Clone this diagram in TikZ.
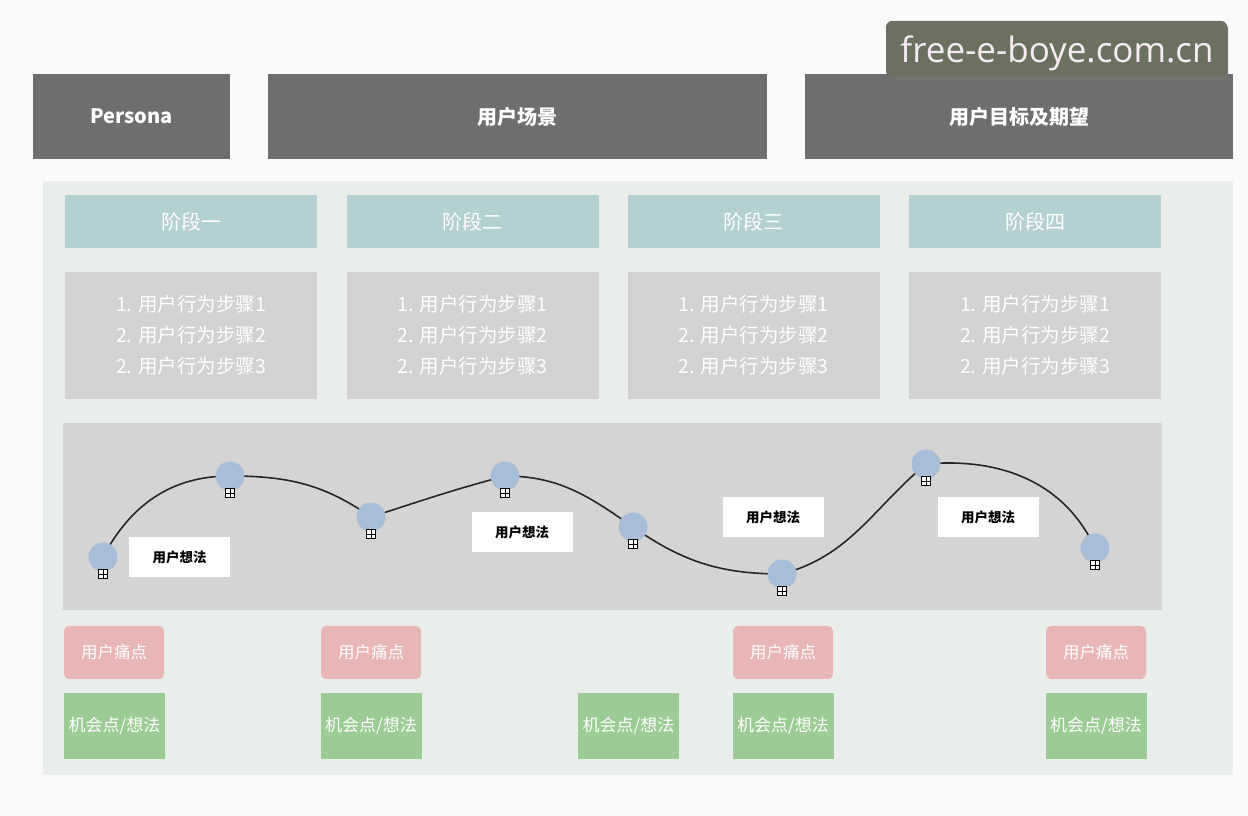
\documentclass[tikz,border=0pt]{standalone}
\usepackage{fontspec}
\setmainfont{Noto Sans CJK SC}
\newfontfamily\wmfont{Open Sans}
\definecolor{pagebg}{HTML}{FAFAFA}
\definecolor{headgray}{HTML}{6E6E6E}
\definecolor{panelbg}{HTML}{E9EEEB}
\definecolor{stagec}{HTML}{B5D0D3}
\definecolor{stepc}{HTML}{D2D2D2}
\definecolor{curvebg}{HTML}{D4D4D4}
\definecolor{dotc}{HTML}{A8BDD8}
\definecolor{painc}{HTML}{E7B6B5}
\definecolor{oppc}{HTML}{9DCB96}
\definecolor{wmc}{HTML}{6C705E}
\definecolor{wmtext}{HTML}{F5ECF2}
\tikzset{
  base/.style={rectangle, inner sep=0pt, align=center},
  headbox/.style={base, fill=headgray, text=white, minimum height=85pt, font=\fontsize{20}{24}\selectfont\bfseries},
  stagebox/.style={base, fill=stagec, text=white, minimum width=252pt, minimum height=53pt, font=\fontsize{20}{24}\selectfont},
  stepbox/.style={base, fill=stepc, text=white, minimum width=252pt, minimum height=127pt, font=\fontsize{19.5}{31}\selectfont},
  thought/.style={base, fill=white, text=black, minimum width=101pt, minimum height=40pt, font=\fontsize{13.5}{16}\selectfont\bfseries},
  painbox/.style={base, fill=painc, text=white, rounded corners=5pt, minimum width=100pt, minimum height=53pt, font=\fontsize{16.5}{20}\selectfont},
  oppbox/.style={base, fill=oppc, text=white, minimum width=101pt, minimum height=66pt, font=\fontsize{17}{20}\selectfont},
  dot/.style={circle, fill=dotc, minimum size=29pt, inner sep=0pt},
  plusbox/.style={rectangle, draw=black, line width=0.9pt, fill=white, minimum size=9pt, inner sep=0pt,
    path picture={\draw[line width=0.8pt] (path picture bounding box.north) -- (path picture bounding box.south)
      (path picture bounding box.west) -- (path picture bounding box.east);}},
  curveline/.style={draw=black!85, line width=1.6pt},
}
\begin{document}
\begin{tikzpicture}[x=1pt,y=1pt]
\fill[pagebg] (0,0) rectangle (1248,816);
\useasboundingbox (0,0) rectangle (1248,816);
% headers
\node[headbox, minimum width=197pt] (persona) at (131.5,699.5) {Persona};
\node[headbox, minimum width=499pt] (scene) at (517.5,699.5) {用户场景};
\node[headbox, minimum width=428pt] (goal) at (1019,699.5) {用户目标及期望};
% main panel
\node[base, fill=panelbg, minimum width=1190pt, minimum height=594pt] (panel) at (638,338) {};
% stages
\node[stagebox] (s1) at (191,594.5) {阶段一};
\node[stagebox] (s2) at (472.5,594.5) {阶段二};
\node[stagebox] (s3) at (753.5,594.5) {阶段三};
\node[stagebox] (s4) at (1035,594.5) {阶段四};
\foreach \i/\x in {1/191,2/472.5,3/753.5,4/1035}{
  \node[stepbox] (st\i) at (\x,480.5) {1. 用户行为步骤1\\2. 用户行为步骤2\\2. 用户行为步骤3};
}
% curve panel
\node[base, fill=curvebg, minimum width=1099pt, minimum height=187pt] (cpanel) at (612.5,299.5) {};
% thought boxes
\node[thought] (t1) at (179.5,259) {用户想法};
\node[thought] (t2) at (522,284) {用户想法};
\node[thought] (t3) at (773,299) {用户想法};
\node[thought] (t4) at (988,299) {用户想法};
% curve
\coordinate (c1) at (103,259);
\coordinate (c2) at (230,340);
\coordinate (c3) at (371,299);
\coordinate (c4) at (505,340);
\coordinate (c5) at (633,289);
\coordinate (c6) at (782,242);
\coordinate (c7) at (926,352);
\coordinate (c8) at (1095,268);
\draw[curveline] (c1) to[out=62,in=180] (c2) to[out=0,in=145] (c3)
  to[out=18,in=195] (c4) to[out=0,in=145] (c5) to[out=-35,in=180] (c6)
  to[out=15,in=220] (c7) to[out=5,in=115] (c8);
\foreach \i in {1,...,8}{
  \node[dot] (d\i) at (c\i) {};
  \node[plusbox] (b\i) at ([yshift=-17pt]c\i) {};
}
% pain points
\node[painbox] (pa1) at (114,163.5) {用户痛点};
\node[painbox] (pa2) at (371,163.5) {用户痛点};
\node[painbox] (pa3) at (783,163.5) {用户痛点};
\node[painbox] (pa4) at (1096,163.5) {用户痛点};
% opportunities
\node[oppbox] (o1) at (114.5,90) {机会点/想法};
\node[oppbox] (o2) at (371,90) {机会点/想法};
\node[oppbox] (o3) at (628.5,90) {机会点/想法};
\node[oppbox] (o4) at (783,90) {机会点/想法};
\node[oppbox] (o5) at (1096,90) {机会点/想法};
% watermark
\fill[black!55, rounded corners=6pt] (887,736) rectangle (1228,793);
\node[base, fill=wmc, rounded corners=6pt, minimum width=341pt, minimum height=56pt] (wm) at (1056.5,767) {};
\node[base, text=wmtext, font=\wmfont\fontsize{35}{40}\selectfont] (wmt) at (1057,763) {free-e-boye.com.cn};
\end{tikzpicture}
\end{document}
